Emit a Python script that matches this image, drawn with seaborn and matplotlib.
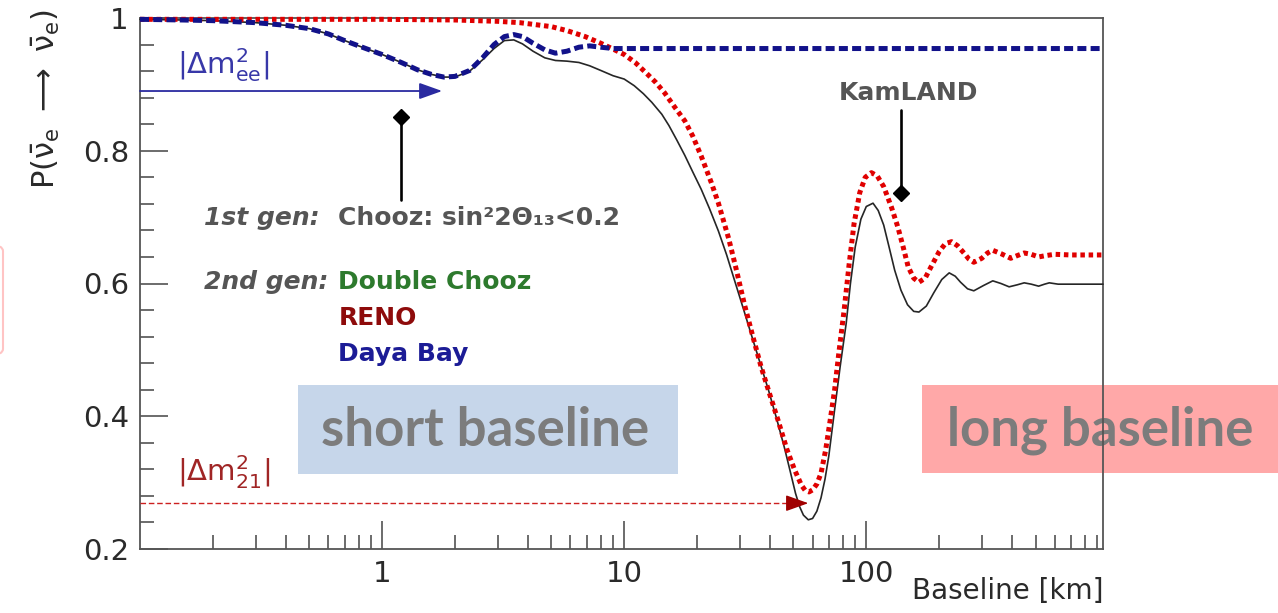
import matplotlib
matplotlib.use("Agg")
import matplotlib.pyplot as plt
from matplotlib.patches import Rectangle, FancyBboxPatch
from matplotlib.ticker import FixedLocator, LogLocator, MultipleLocator, NullFormatter
import pandas as pd
import seaborn as sns

# Reactor antineutrino survival probability versus baseline (km)
full_L = [0.1, 0.15, 0.2, 0.3, 0.4, 0.5, 0.6, 0.7, 0.8, 1.0, 1.2, 1.4, 1.6, 1.8, 2.0,
          2.3, 2.6, 2.9, 3.2, 3.5, 3.8, 4.2, 4.7, 5.2, 5.8, 6.5, 7.2, 8.0, 9.0, 10,
          11, 12, 13, 14.3, 15.3, 16.5, 17.8, 19.2, 20.8, 22.5, 24.5, 26.5, 28.6, 31,
          33.5, 36.5, 39.4, 42.5, 45.8, 48.5, 51, 53, 55, 57.6, 60, 62.5, 65, 67.5, 70,
          73.7, 78, 82.6, 86, 90, 95, 100, 106.6, 112, 118, 124, 131, 139, 148, 157,
          165, 177, 190, 205, 220, 233, 245, 262, 278, 305, 333, 360, 389, 420, 449,
          480, 515, 545, 570, 620, 700, 800, 950]
full_P = [0.998, 0.997, 0.996, 0.993, 0.989, 0.984, 0.976, 0.966, 0.958, 0.945, 0.933,
          0.922, 0.915, 0.911, 0.911, 0.920, 0.937, 0.954, 0.966, 0.967, 0.961, 0.950,
          0.940, 0.936, 0.935, 0.933, 0.928, 0.921, 0.913, 0.908, 0.898, 0.886, 0.873,
          0.855, 0.838, 0.816, 0.793, 0.768, 0.742, 0.713, 0.679, 0.643, 0.604, 0.563,
          0.523, 0.479, 0.440, 0.398, 0.354, 0.317, 0.284, 0.264, 0.251, 0.244, 0.246,
          0.257, 0.277, 0.305, 0.340, 0.405, 0.475, 0.540, 0.600, 0.655, 0.697, 0.716,
          0.721, 0.710, 0.688, 0.656, 0.620, 0.590, 0.568, 0.558, 0.557, 0.566, 0.586,
          0.606, 0.616, 0.611, 0.602, 0.592, 0.589, 0.597, 0.604, 0.600, 0.595, 0.598,
          0.601, 0.599, 0.596, 0.599, 0.601, 0.599, 0.599, 0.599, 0.599]

# Delta m^2_21 term only
solar_L = [0.1, 1.0, 2.0, 3.0, 3.7, 4.3, 5.0, 5.8, 6.9, 8.0, 8.9, 10, 11.1, 12.5, 13.5,
           14.7, 16, 17.8, 19.2, 20.8, 22.9, 24.5, 27, 29, 31.4, 34, 36.8, 40, 43.2, 47,
           50.6, 54, 56, 58, 60, 62.5, 65, 68, 71, 74, 77, 81, 85, 89, 94, 99, 105, 111,
           118, 127, 135, 142, 149, 157, 165, 175, 185, 200, 212, 225, 238, 253, 265,
           278, 300, 317, 333, 360, 395, 420, 449, 480, 515, 550, 600, 700, 950]
solar_P = [0.998, 0.998, 0.997, 0.995, 0.993, 0.990, 0.987, 0.981, 0.972, 0.962, 0.954,
           0.945, 0.933, 0.915, 0.903, 0.887, 0.868, 0.845, 0.822, 0.792, 0.752, 0.721,
           0.668, 0.622, 0.568, 0.520, 0.474, 0.432, 0.394, 0.350, 0.319, 0.296, 0.288,
           0.286, 0.289, 0.298, 0.314, 0.350, 0.395, 0.440, 0.495, 0.560, 0.630, 0.690,
           0.737, 0.760, 0.767, 0.762, 0.746, 0.715, 0.685, 0.655, 0.625, 0.608, 0.602,
           0.608, 0.625, 0.648, 0.660, 0.663, 0.657, 0.646, 0.637, 0.632, 0.638, 0.646,
           0.650, 0.645, 0.638, 0.642, 0.646, 0.644, 0.640, 0.642, 0.644, 0.643, 0.643]

# Delta m^2_ee term only
atm_L = [0.1, 0.15, 0.2, 0.3, 0.4, 0.5, 0.6, 0.7, 0.8, 1.0, 1.2, 1.4, 1.6, 1.8, 2.0,
         2.3, 2.6, 2.9, 3.2, 3.5, 3.8, 4.2, 4.7, 5.2, 5.8, 6.5, 7.2, 8.0, 9.0, 10, 20,
         50, 100, 300, 950]
atm_P = [0.998, 0.997, 0.996, 0.993, 0.989, 0.984, 0.976, 0.966, 0.958, 0.945, 0.933,
         0.922, 0.915, 0.911, 0.912, 0.921, 0.940, 0.960, 0.972, 0.975, 0.972, 0.962,
         0.952, 0.947, 0.950, 0.956, 0.958, 0.956, 0.954, 0.954, 0.954, 0.954, 0.954,
         0.954, 0.954]

x_ticks = [1, 10, 100]
x_tick_labels = ["1", "10", "100"]
y_ticks = [0.2, 0.4, 0.6, 0.8, 1.0]
y_tick_labels = ["0.2", "0.4", "0.6", "0.8", "1"]

# Experiment baselines marked on the plot
chooz_L, chooz_P = 1.2, 0.851
kamland_L, kamland_P = 139, 0.737
dm_ee_L, dm_ee_P = 1.77, 0.890
dm_21_L, dm_21_P = 57.6, 0.269

sns.set_theme(style="ticks")
plt.rcParams["font.family"] = ["DejaVu Sans"]
plt.rcParams["mathtext.fontset"] = "dejavusans"

W, H = 1278, 613
fig = plt.figure(figsize=(W / 100, H / 100), dpi=100, facecolor="white")
ax = fig.add_axes([140 / W, 1 - 549 / H, (1103 - 140) / W, (549 - 18) / H])
ax.set_facecolor("none")
ax.set_xscale("log")
ax.set_xlim(0.1, 950)
ax.set_ylim(0.2, 1.0)

full = pd.DataFrame({"L": full_L, "P": full_P})
solar = pd.DataFrame({"L": solar_L, "P": solar_P})
atm = pd.DataFrame({"L": atm_L, "P": atm_P})

sns.lineplot(data=full, x="L", y="P", ax=ax, color="#262626", linewidth=1.2,
             estimator=None, sort=False, zorder=3, clip_on=False)
sns.lineplot(data=solar, x="L", y="P", ax=ax, color="#e00000", linewidth=3.6,
             linestyle=(0, (0.9, 0.75)), estimator=None, sort=False, zorder=4,
             clip_on=False)
sns.lineplot(data=atm, x="L", y="P", ax=ax, color="#12128a", linewidth=3.6,
             linestyle=(0, (1.8, 0.85)), estimator=None, sort=False, zorder=5,
             clip_on=False)

# axes styling
for side in ["left", "right", "top", "bottom"]:
    ax.spines[side].set_color("#555555")
    ax.spines[side].set_linewidth(1.3)
ax.xaxis.set_major_locator(FixedLocator(x_ticks))
ax.set_xticklabels(x_tick_labels)
ax.xaxis.set_minor_locator(LogLocator(base=10, subs=[2, 3, 4, 5, 6, 7, 8, 9]))
ax.xaxis.set_minor_formatter(NullFormatter())
ax.yaxis.set_major_locator(FixedLocator(y_ticks))
ax.set_yticklabels(y_tick_labels)
ax.yaxis.set_minor_locator(MultipleLocator(0.04))
ax.tick_params(which="major", direction="in", length=20, width=1.1, color="#444444",
               labelsize=21, labelcolor="#2a2a2a", pad=8)
ax.tick_params(which="minor", direction="in", length=10, width=1.1, color="#444444")
ax.tick_params(which="both", top=False, right=False)

ax.set_xlabel("Baseline [km]", fontsize=20, color="#2a2a2a", loc="right")
ax.xaxis.set_label_coords(1.0, -0.052)
ax.set_ylabel(r"$\mathrm{P(\bar{\nu}_e}\ \longrightarrow\ \mathrm{\bar{\nu}_e)}$",
              fontsize=22, color="#2a2a2a", loc="top")
ax.yaxis.set_label_coords(-0.081, 1.016)

# oscillation-length arrows
ax.annotate("", xy=(dm_ee_L, dm_ee_P), xytext=(0.1, dm_ee_P),
            arrowprops=dict(arrowstyle="-|>,head_length=0.7,head_width=0.25",
                            color="#2a2aa0", lw=1.3, shrinkA=0, shrinkB=0,
                            mutation_scale=20), zorder=6)
ax.text(0.142, 0.929, r"$|\Delta\mathrm{m}^2_\mathrm{ee}|$", fontsize=21,
        color="#3838a8", va="center", ha="left")

ax.plot([0.1, dm_21_L * 0.88], [dm_21_P, dm_21_P], color="#cc2020", lw=1.0,
        linestyle=(0, (4, 2)), zorder=6)
ax.annotate("", xy=(dm_21_L, dm_21_P), xytext=(dm_21_L * 0.88, dm_21_P),
            arrowprops=dict(arrowstyle="-|>,head_length=0.7,head_width=0.25",
                            color="#a00000", lw=1.0, shrinkA=0, shrinkB=0,
                            mutation_scale=20), zorder=6)
ax.text(0.142, 0.316, r"$|\Delta\mathrm{m}^2_{21}|$", fontsize=21,
        color="#a02525", va="center", ha="left")

# experiment markers
ax.plot([chooz_L, chooz_L], [0.726, chooz_P], color="black", lw=1.9, zorder=6)
ax.plot([chooz_L], [chooz_P], marker="D", ms=8, color="black", zorder=7)
ax.plot([kamland_L, kamland_L], [kamland_P, 0.861], color="black", lw=1.9, zorder=6)
ax.plot([kamland_L], [kamland_P], marker="D", ms=8, color="black", zorder=7)
ax.text(150, 0.887, "KamLAND", fontsize=18, fontweight="bold", color="#555555",
        ha="center", va="center")

gray = "#555555"
ax.text(0.1845, 0.699, "1st gen:", fontsize=18, fontweight="bold", style="italic",
        color=gray, va="center", ha="left")
ax.text(0.659, 0.699, "Chooz: sin²2Θ₁₃<0.2", fontsize=18, fontweight="bold",
        color=gray, va="center", ha="left")
ax.text(0.1845, 0.602, "2nd gen:", fontsize=18, fontweight="bold", style="italic",
        color=gray, va="center", ha="left")
ax.text(0.659, 0.602, "Double Chooz", fontsize=18, fontweight="bold",
        color="#2d7a2d", va="center", ha="left")
ax.text(0.659, 0.548, "RENO", fontsize=18, fontweight="bold",
        color="#8e0b0b", va="center", ha="left")
ax.text(0.659, 0.494, "Daya Bay", fontsize=18, fontweight="bold",
        color="#1c1c96", va="center", ha="left")

# baseline region labels
def px_box(x0, y0, x1, y1, color):
    fig.patches.append(Rectangle((x0 / W, 1 - y1 / H), (x1 - x0) / W, (y1 - y0) / H,
                                 transform=fig.transFigure, facecolor=color,
                                 edgecolor="none", zorder=-2))

px_box(298, 385, 678, 474, "#c6d6ea")
px_box(922, 385, 1290, 473, "#ffa8a8")
fig.text(485 / W, 1 - 430 / H, "short baseline", fontsize=38, fontweight="bold",
         family="Lato", color="#7c7c7c", ha="center", va="center", zorder=-1)
fig.text(1100 / W, 1 - 430 / H, "long baseline", fontsize=38, fontweight="bold",
         family="Lato", color="#7c7c7c", ha="center", va="center", zorder=-1)
fig.patches.append(FancyBboxPatch((-40 / W, 1 - 355 / H), 43 / W, 110 / H,
                                  boxstyle="round,pad=0,rounding_size=0.01",
                                  transform=fig.transFigure, facecolor="none",
                                  edgecolor="#ffc4c4", lw=1.5, zorder=-2))

fig.savefig("out.png", dpi=100, facecolor="white")
